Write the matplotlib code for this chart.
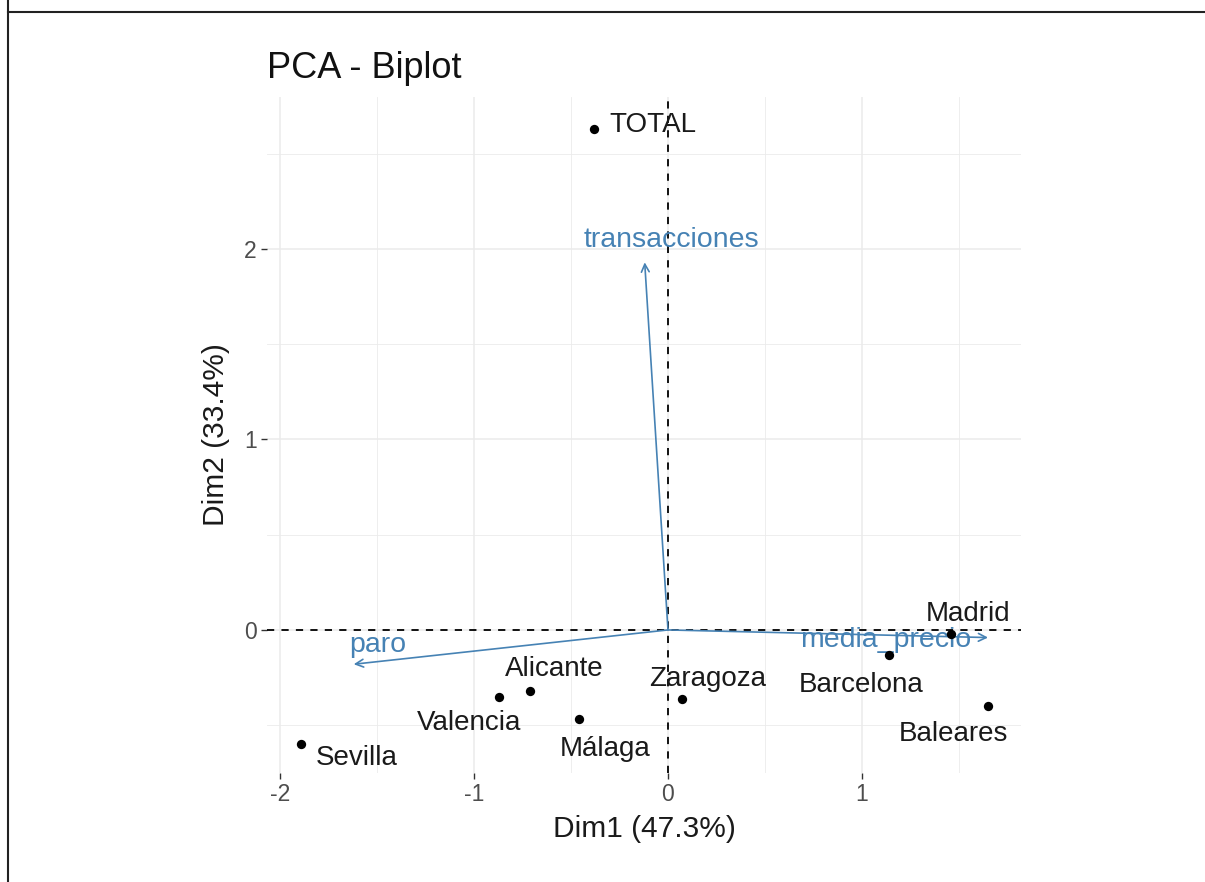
import numpy as np
import matplotlib
matplotlib.use('Agg')
import matplotlib.pyplot as plt
from matplotlib.lines import Line2D

# individuals (PCA coordinates)
names = ['TOTAL', 'Madrid', 'Barcelona', 'Baleares', 'Zaragoza',
         'Alicante', 'Valencia', 'Málaga', 'Sevilla']
dim1 = [-0.38, 1.46, 1.14, 1.65, 0.07, -0.71, -0.87, -0.46, -1.89]
dim2 = [2.63, -0.02, -0.13, -0.40, -0.36, -0.32, -0.35, -0.47, -0.60]

# variables (arrow tips)
var_names = ['transacciones', 'paro', 'media_precio']
var_x = [-0.12, -1.62, 1.65]
var_y = [1.93, -0.18, -0.04]

# label offsets in points (repel-like placement)
name_off = [(42, 3), (12, 14), (-20, -22), (-25, -20), (19, 14),
            (17, 16), (-22, -19), (19, -21), (40, -10)]
var_off = [(19, 16), (17, 14), (-74, -2)]

plt.rcParams['font.family'] = ['Liberation Sans', 'DejaVu Sans']
plt.rcParams['axes.unicode_minus'] = False

fig = plt.figure(figsize=(12.05, 8.82), dpi=100)
ax = fig.add_axes([0.2216, 0.1236, 0.6257, 0.7664])

ax.set_xlim(-2.067, 1.82)
ax.set_ylim(-0.751, 2.798)

# grid like theme_minimal
ax.set_xticks([-2, -1, 0, 1])
ax.set_yticks([0, 1, 2])
ax.set_xticks([-1.5, -0.5, 0.5, 1.5], minor=True)
ax.set_yticks([-0.5, 0.5, 1.5, 2.5], minor=True)
ax.grid(True, which='major', color='#EBEBEB', lw=1.1)
ax.grid(True, which='minor', color='#EBEBEB', lw=0.6)
ax.set_axisbelow(True)
for s in ax.spines.values():
    s.set_visible(False)
ax.tick_params(which='major', length=4.5, width=1.0, color='#333333',
               labelsize=16.5, labelcolor='#4D4D4D', pad=3)
ax.tick_params(which='minor', length=0)

# reference lines
ax.axhline(0, color='black', ls=(0, (4, 4)), lw=1.3, zorder=2)
ax.axvline(0, color='black', ls=(0, (4, 4)), lw=1.3, zorder=2)

# points and labels
ax.scatter(dim1, dim2, s=45, color='black', zorder=4, linewidths=0)
for n, x, y, off in zip(names, dim1, dim2, name_off):
    ax.annotate(n, (x, y), xytext=off, textcoords='offset points',
                ha='center', va='center', fontsize=20, color='#1a1a1a', zorder=5)

# variable arrows
for n, x, y, off in zip(var_names, var_x, var_y, var_off):
    ax.annotate('', xy=(x, y), xytext=(0, 0),
                arrowprops=dict(arrowstyle='->', color='#4682B4', lw=1.2,
                                mutation_scale=14, shrinkA=0, shrinkB=0),
                zorder=3)
    ax.annotate(n, (x, y), xytext=off, textcoords='offset points',
                ha='center', va='center', fontsize=20.5, color='#4682B4', zorder=3)

ax.set_xlabel('Dim1 (47.3%)', fontsize=21.5, color='#1a1a1a', labelpad=6)
ax.set_ylabel('Dim2 (33.4%)', fontsize=21.5, color='#1a1a1a', labelpad=10)

fig.text(267 / 1205, 1 - 78 / 882, 'PCA - Biplot', fontsize=26,
         color='#111111', ha='left', va='baseline')

# screenshot frame
fig.add_artist(Line2D([8 / 1205, 1], [1 - 12 / 882] * 2, color='#222222', lw=1.5))
fig.add_artist(Line2D([8 / 1205] * 2, [0, 1], color='#222222', lw=1.5))

fig.savefig('out.png', dpi=100)
